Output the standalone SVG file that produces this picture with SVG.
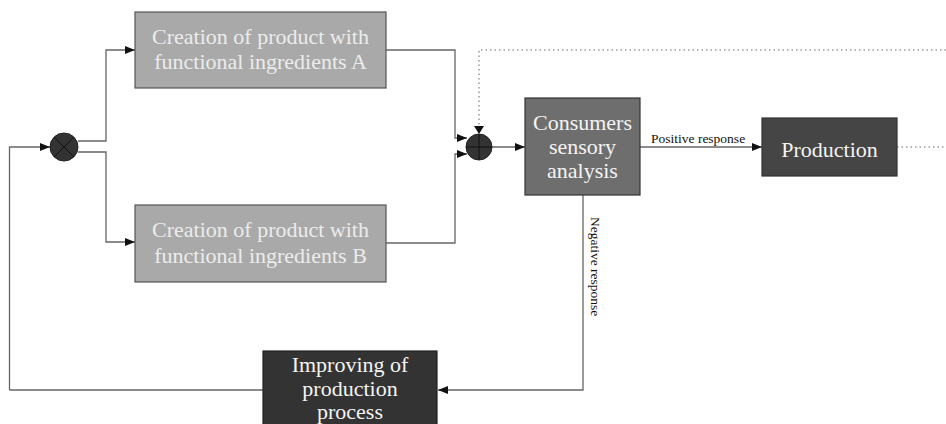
<svg xmlns="http://www.w3.org/2000/svg" width="946" height="424" viewBox="0 0 946 424">
<defs>
<marker id="ah" viewBox="0 0 10 10" refX="10" refY="5" markerWidth="10" markerHeight="10" markerUnits="userSpaceOnUse" orient="auto">
<path d="M0,1 L10,5 L0,9 Z" fill="#111"/>
</marker>
</defs>
<style>
.ln{fill:none;stroke:#666;stroke-width:1.3}
.ar{fill:none;stroke:#666;stroke-width:1.3;marker-end:url(#ah)}
.dot{fill:none;stroke:#999;stroke-width:1.5;stroke-dasharray:1.5 3}
.t{font-family:"Liberation Serif","Times New Roman",serif;text-anchor:middle}
.light{fill:#ececec}
.white{fill:#f4f4f4}
.lbl{font-family:"Liberation Serif","Times New Roman",serif;font-size:13.5px;fill:#111}
</style>
<rect width="946" height="424" fill="#fff"/>
<g id="connectors">
<path class="ar" d="M9.5,390 V147 H50"/>
<path class="ar" d="M78,141 H106 V50 H135"/>
<path class="ar" d="M78,152 H106 V242 H135"/>
<path class="ar" d="M386,50 H455 V138 H467"/>
<path class="ar" d="M386,243 H455 V154 H467"/>
<path class="dot" d="M946,50 H479 V128"/>
<path d="M474,126 L479,134 L484,126 Z" fill="#111"/>
<path class="ar" d="M492,147 H525"/>
<path class="ar" d="M640,147 H762"/>
<path class="dot" d="M897,147 H946"/>
<path class="ar" d="M583,195 V390 H438"/>
<path class="ln" d="M263,390 H9.5"/>
<text class="lbl" x="651" y="143">Positive response</text>
<text class="lbl" transform="translate(591,217) rotate(90)">Negative response</text>
</g>
<g id="mult">
<circle cx="64" cy="147" r="14" fill="#333" stroke="#222"/>
<path d="M54,137 L74,157 M74,137 L54,157" stroke="#111" stroke-width="1"/>
</g>
<g id="sum">
<circle cx="479" cy="147" r="13" fill="#333" stroke="#222"/>
<path d="M466,147 H492 M479,134 V160" stroke="#111" stroke-width="1"/>
</g>
<g id="boxA">
<rect x="135" y="12" width="251" height="76" fill="#a9a9a9" stroke="#555" stroke-width="1.2"/>
<text class="t light" x="260.5" y="44" font-size="22">Creation of product with</text>
<text class="t light" x="260.5" y="69" font-size="22">functional ingredients A</text>
</g>
<g id="boxB">
<rect x="135" y="205" width="251" height="77" fill="#a9a9a9" stroke="#555" stroke-width="1.2"/>
<text class="t light" x="260.5" y="237" font-size="22">Creation of product with</text>
<text class="t light" x="260.5" y="263" font-size="22">functional ingredients B</text>
</g>
<g id="consumers">
<rect x="525" y="98" width="115" height="97" fill="#6e6e6e" stroke="#333" stroke-width="1.2"/>
<text class="t white" x="582.5" y="130" font-size="22">Consumers</text>
<text class="t white" x="582.5" y="154" font-size="22">sensory</text>
<text class="t white" x="582.5" y="178" font-size="22">analysis</text>
</g>
<g id="production">
<rect x="762" y="118" width="135" height="58" fill="#454545" stroke="#333" stroke-width="1.2"/>
<text class="t white" x="829.5" y="157" font-size="22">Production</text>
</g>
<g id="improving">
<rect x="263" y="351" width="174" height="80" fill="#333" stroke="#222" stroke-width="1.2"/>
<text class="t white" x="350" y="372" font-size="22">Improving of</text>
<text class="t white" x="350" y="396" font-size="22">production</text>
<text class="t white" x="350" y="419" font-size="22">process</text>
</g>
</svg>
